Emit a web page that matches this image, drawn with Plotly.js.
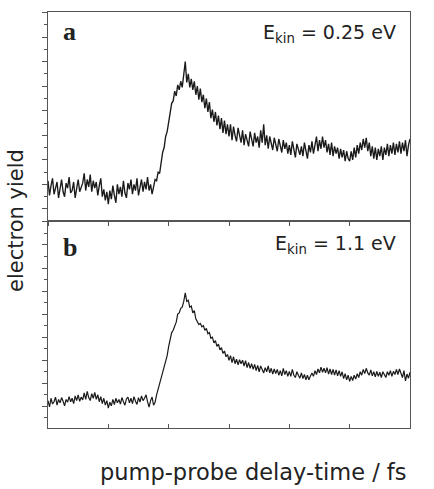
<!DOCTYPE html>
<html>
<head>
<meta charset="utf-8">
<script src="https://cdn.plot.ly/plotly-3.0.1.min.js"></script>
<style>html,body{margin:0;padding:0;background:#fff;}#chart{width:434px;height:489px;}</style>
</head>
<body>
<div id="chart"></div>
<script>
// delay axis: first delay (fs) and step (fs)
var delayStart = -2000;
var delayStep = 25;

// panel a: E_kin = 0.25 eV (arbitrary units)
var yieldA = [
1.15,0.55,0.95,1.25,0.60,0.80,1.10,0.45,
0.90,1.20,0.70,0.50,1.05,0.85,1.30,0.65,
0.75,1.10,0.45,0.95,1.20,0.70,0.88,1.05,
1.45,0.75,1.20,0.90,1.40,0.70,1.15,0.85,
1.10,0.55,0.95,1.25,0.50,0.80,0.35,0.70,
0.20,0.75,0.40,0.95,0.55,0.25,1.00,0.60,
0.90,0.50,1.15,0.65,0.45,1.05,0.80,1.20,
0.60,1.00,0.75,1.25,0.55,0.95,1.20,0.70,
1.10,0.80,1.30,0.75,1.00,0.60,0.95,1.20,
1.15,1.50,1.45,1.95,2.30,2.50,2.95,3.15,
3.60,3.85,4.30,4.40,4.80,4.60,5.05,4.85,
5.20,4.95,5.55,6.00,5.15,5.50,4.95,5.30,
4.85,5.20,4.65,5.00,4.45,4.90,4.35,4.65,
4.10,4.50,3.95,4.35,3.70,4.05,3.55,3.95,
3.40,3.80,3.25,3.70,3.10,3.60,3.05,3.45,
2.95,3.45,2.80,3.35,3.00,2.75,3.30,2.95,
2.70,3.20,2.60,3.05,2.85,2.55,3.15,2.75,
2.55,3.10,2.70,2.95,2.50,3.20,2.70,3.45,
2.60,3.00,2.45,2.95,2.70,2.40,2.90,2.55,
2.35,2.85,2.50,2.30,2.80,2.45,2.70,2.25,
2.60,2.20,2.75,2.35,2.10,2.65,2.40,2.20,
2.55,2.15,2.70,2.40,2.05,2.60,2.30,2.75,
2.25,2.60,2.95,2.35,2.80,2.45,2.95,2.50,
2.80,2.30,2.65,2.20,2.70,2.15,2.55,2.25,
2.50,2.05,2.45,2.10,2.40,1.95,2.35,2.05,
1.95,2.35,2.00,2.50,2.10,2.60,2.25,2.70,
2.40,2.85,2.50,2.90,2.35,2.70,2.15,2.55,
2.05,2.50,2.00,2.45,2.15,2.55,2.00,2.50,
2.20,2.65,2.15,2.60,2.25,2.70,2.20,2.65,
2.30,2.75,2.25,2.70,2.35,2.80,2.15,2.60,
2.85
];

// panel b: E_kin = 1.1 eV (arbitrary units)
var yieldB = [
0.25,-0.02,0.35,0.10,0.20,0.40,0.05,0.30,
0.15,0.38,0.22,0.02,0.30,0.18,0.42,0.20,
0.35,0.12,0.45,0.25,0.50,0.22,0.40,0.28,
0.58,0.30,0.65,0.38,0.25,0.55,0.35,0.60,
0.30,0.50,0.20,0.42,0.12,0.35,0.05,0.25,
-0.08,0.18,0.02,0.30,0.08,0.35,0.15,0.30,
0.10,0.38,0.20,0.05,0.32,0.40,0.15,0.35,
0.12,0.42,0.22,0.08,0.38,0.18,0.45,0.25,
0.35,0.50,0.20,-0.03,0.25,0.40,0.05,0.18,
0.50,0.75,0.95,1.15,1.40,1.68,1.90,2.20,
2.60,2.85,3.20,3.30,3.50,3.65,4.00,4.05,
4.25,4.30,4.55,4.92,4.55,4.60,4.30,4.35,
4.05,4.15,3.80,3.65,3.55,3.60,3.45,3.50,
3.30,3.38,3.15,3.20,2.95,3.00,2.75,2.85,
2.60,2.70,2.45,2.55,2.30,2.40,2.15,2.25,
2.00,2.20,1.90,2.15,1.85,2.05,1.80,2.02,
1.85,2.00,1.75,1.98,1.68,1.90,1.65,1.85,
1.60,1.82,1.55,1.78,1.50,1.75,1.58,1.45,
1.68,1.50,1.75,1.45,1.65,1.40,1.62,1.42,
1.60,1.35,1.55,1.32,1.65,1.38,1.55,1.30,
1.52,1.30,1.60,1.35,1.25,1.50,1.35,1.22,
1.45,1.20,1.38,1.15,1.35,1.15,1.32,1.45,
1.30,1.55,1.38,1.62,1.45,1.70,1.48,1.65,
1.45,1.68,1.40,1.62,1.38,1.60,1.35,1.58,
1.32,1.55,1.30,1.50,1.20,1.42,1.15,1.35,
1.08,1.30,1.12,1.35,1.18,1.42,1.25,1.50,
1.35,1.60,1.42,1.65,1.45,1.35,1.58,1.32,
1.50,1.28,1.52,1.30,1.48,1.25,1.50,1.35,
1.25,1.50,1.35,1.55,1.30,1.52,1.38,1.60,
1.38,1.62,1.42,1.25,1.55,1.10,1.40,1.22,
1.48
];

var delayTicks = [-2000, 0, 2000, 4000];
var delayTickText = ["-2000", "0", "2000", "4000"];
var delayMinorTicks = [-1000, 1000, 3000];
var panelLabels = ["a", "b"];
var energyLabels = ["E<sub>kin</sub> = 0.25 eV", "E<sub>kin</sub> = 1.1 eV"];
var xTitle = "pump-probe delay-time / fs";
var yTitle = "electron yield";

var lineCol = "#1a1a1a";
var frameCol = "#555";
var textCol = "#222";
var split = 0.4976;
var tickLabelLevel = -1.68; // bottom-panel y level (below its range) where delay tick labels sit

var tickLabelY = [];
for (var k = 0; k < delayTicks.length; k++) tickLabelY.push(tickLabelLevel);

var traces = [
  {x0: delayStart, dx: delayStep, y: yieldA, xaxis: "x2", yaxis: "y2", type: "scatter", mode: "lines",
   line: {color: lineCol, width: 1.35}, hoverinfo: "skip"},
  {x0: delayStart, dx: delayStep, y: yieldB, xaxis: "x", yaxis: "y", type: "scatter", mode: "lines",
   line: {color: lineCol, width: 1.2}, hoverinfo: "skip"},
  {x: delayTicks, y: tickLabelY, text: delayTickText, xaxis: "x", yaxis: "y", type: "scatter", mode: "text",
   textposition: "middle center", cliponaxis: false, hoverinfo: "skip",
   textfont: {family: "DejaVu Sans", size: 21, color: textCol}}
];

var yCommon = {
  showgrid: false, zeroline: false, showline: true, mirror: true, linecolor: frameCol, linewidth: 1.3,
  ticks: "outside", ticklen: 5, tickwidth: 1, tickcolor: frameCol, tickmode: "linear", tick0: 0, dtick: 1,
  showticklabels: false,
  minor: {ticks: "outside", ticklen: 3, tickwidth: 1, tickcolor: frameCol, dtick: 0.5, tick0: 0, showgrid: false}
};

var annotations = [
  {text: panelLabels[0], xref: "paper", yref: "paper", x: 0.036, y: 0.954, xanchor: "left", yanchor: "middle",
   showarrow: false, font: {family: "Liberation Serif", size: 26, color: textCol, weight: "bold"}},
  {text: panelLabels[1], xref: "paper", yref: "paper", x: 0.036, y: 0.435, xanchor: "left", yanchor: "middle",
   showarrow: false, font: {family: "Liberation Serif", size: 26, color: textCol, weight: "bold"}},
  {text: energyLabels[0], xref: "paper", yref: "paper", x: 0.967, y: 0.949, xanchor: "right", yanchor: "middle",
   showarrow: false, font: {family: "DejaVu Sans", size: 19, color: textCol}},
  {text: energyLabels[1], xref: "paper", yref: "paper", x: 0.967, y: 0.44, xanchor: "right", yanchor: "middle",
   showarrow: false, font: {family: "DejaVu Sans", size: 19, color: textCol}},
  {text: xTitle, xref: "paper", yref: "paper", x: 0.569, y: -0.106, xanchor: "center", yanchor: "middle",
   showarrow: false, font: {family: "DejaVu Sans", size: 22.5, color: textCol}},
  {text: yTitle, xref: "paper", yref: "paper", x: -0.0884, y: 0.5, xanchor: "center", yanchor: "middle",
   textangle: -90, showarrow: false, font: {family: "DejaVu Sans", size: 21, color: textCol}}
];

var layout = {
  width: 434, height: 489,
  margin: {l: 48, r: 24, t: 12, b: 61},
  paper_bgcolor: "#fff", plot_bgcolor: "#fff",
  showlegend: false,
  font: {family: "DejaVu Sans", color: textCol},
  xaxis: {
    anchor: "y", domain: [0, 1], range: [-2000, 4000],
    showgrid: false, zeroline: false, showline: true, mirror: true, linecolor: frameCol, linewidth: 1.3,
    tickmode: "array", tickvals: delayTicks, showticklabels: false,
    ticks: "inside", ticklen: 4, tickwidth: 1, tickcolor: frameCol,
    minor: {ticks: "inside", ticklen: 4, tickwidth: 1, tickcolor: frameCol, tickmode: "array", tickvals: delayMinorTicks, showgrid: false}
  },
  xaxis2: {
    anchor: "y2", domain: [0, 1], range: [-2000, 4000],
    showgrid: false, zeroline: false, showline: true, mirror: true, linecolor: frameCol, linewidth: 1.3,
    tickmode: "linear", tick0: -2000, dtick: 1000,
    ticks: "outside", ticklen: 4, tickwidth: 1, tickcolor: frameCol,
    showticklabels: false
  },
  yaxis: Object.assign({}, yCommon, {anchor: "x", domain: [0, split], range: [-0.94, 8.04]}),
  yaxis2: Object.assign({}, yCommon, {anchor: "x2", domain: [split, 1], range: [-0.49, 8.02]}),
  annotations: annotations
};

Plotly.newPlot("chart", traces, layout, {staticPlot: true, displayModeBar: false});
</script>
</body>
</html>
